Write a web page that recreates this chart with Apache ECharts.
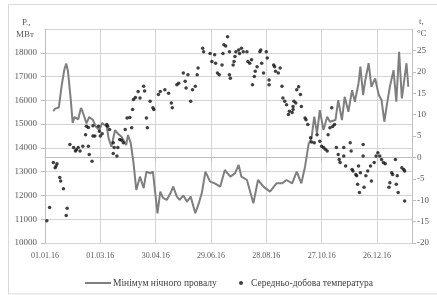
<!DOCTYPE html>
<html style="height: 100%">

<head>
    <meta charset="utf-8">
</head>

<body style="height: 100%; margin: 0; background: #fff">
    <div id="container" style="width: 437px; height: 295px"></div>
    <script src="https://cdn.jsdelivr.net/npm/echarts@6/dist/echarts.min.js"></script>
    <script type="text/javascript">
        // day index counted from 01.01.16
        var xTickLabels = ['01.01.16', '01.03.16', '30.04.16', '29.06.16', '28.08.16', '27.10.16', '26.12.16'];

        // мінімум нічного провалу, МВт
        var nightMin = [
            [9, 15550], [11, 15650], [13, 15600], [15, 15700], [18, 16600], [21, 17300], [23, 17550],
            [25, 17200], [28, 16000], [30, 15050], [32, 15300], [34, 15380], [36, 15200], [39, 15680],
            [41, 15500], [45, 15030], [48, 15300], [52, 15170], [55, 14900], [59, 14750], [62, 15050],
            [67, 14890], [69, 14400], [72, 14050], [76, 14750], [79, 14600], [83, 14470], [88, 14120],
            [90, 14540], [93, 14200], [96, 13360], [99, 12230], [103, 12790], [107, 12310], [110, 13000],
            [114, 12930], [117, 13000], [122, 11250], [125, 12160], [128, 11900], [132, 11810],
            [136, 12090], [139, 12370], [143, 11950], [146, 11810], [150, 12000], [154, 11740],
            [158, 11950], [163, 11250], [167, 11700], [170, 12090], [174, 13000], [179, 12580],
            [184, 12510], [190, 12370], [195, 13070], [201, 12790], [206, 12930], [210, 13280],
            [213, 12790], [219, 12650], [226, 11670], [231, 12650], [237, 12370], [244, 12160],
            [251, 12510], [257, 12510], [262, 12650], [268, 12510], [273, 13000], [278, 12510],
            [282, 13210], [286, 14190], [289, 14400], [292, 15310], [295, 14610], [298, 15590],
            [302, 14750], [306, 15310], [309, 15100], [315, 15170], [318, 16010], [322, 15170],
            [325, 16150], [329, 15520], [333, 16430], [336, 15940], [340, 16710], [342, 17420],
            [345, 16220], [347, 16780], [351, 17560], [354, 16570], [358, 16920], [362, 16220],
            [365, 16010], [368, 15100], [371, 15870], [374, 16570], [378, 17270], [381, 15940],
            [384, 18040], [387, 16080], [392, 17560], [394, 16570]
        ];

        // середньо-добова температура, °C
        var dailyTemp = [
            [2, -14.8], [5, -11.7], [9, -1.2], [11, -2.4], [12, -2.0], [13, -1.5], [16, -4.7], [17, -5.5],
            [20, -7.3], [23, -13.6], [24, -11.9], [27, 3.0], [31, 2.3], [33, 1.5], [34, 1.8], [36, 2.3],
            [38, 1.5], [41, 2.6], [44, 5.3], [45, 7.3], [47, 2.6], [47, 7.0], [48, 0.7], [51, -0.9],
            [52, 5.0], [52, 7.4], [54, 5.0], [58, 7.3], [59, 6.1], [60, 5.0], [62, 5.5], [67, 7.7],
            [68, 7.3], [70, 6.5], [74, 3.4], [75, 2.3], [74, 0.9], [78, 0.3], [79, 2.3], [81, 4.2],
            [83, 4.0], [85, 3.4], [87, 6.5], [89, 9.2], [92, 9.3], [94, 6.9], [95, 11.2], [96, 13.5],
            [98, 14.0], [101, 15.4], [103, 13.9], [107, 16.6], [108, 15.5], [110, 9.2], [111, 6.9],
            [114, 13.1], [117, 11.6], [118, 11.2], [123, 14.7], [125, 15.4], [130, 15.8], [134, 15.0],
            [137, 12.7], [138, 11.6], [143, 17.0], [145, 17.3], [150, 19.7], [152, 17.8], [153, 16.2],
            [155, 19.3], [158, 13.1], [160, 15.8], [163, 16.6], [165, 19.3], [166, 20.9], [171, 25.5],
            [172, 24.7], [179, 24.3], [181, 22.4], [184, 24.0], [185, 22.0], [187, 19.7], [189, 19.3],
            [192, 21.6], [193, 24.3], [194, 26.3], [196, 26.0], [198, 28.2], [200, 24.7], [200, 19.3],
            [201, 18.5], [204, 21.6], [205, 22.4], [206, 23.6], [207, 24.7], [210, 25.1], [211, 24.3],
            [213, 25.5], [215, 24.7], [219, 24.7], [220, 22.4], [222, 22.0], [224, 22.8], [225, 17.0],
            [227, 18.9], [228, 20.1], [230, 21.2], [233, 24.7], [234, 25.1], [235, 22.0], [237, 19.7],
            [240, 24.7], [241, 23.2], [243, 18.1], [243, 17.0], [248, 21.6], [249, 21.2], [250, 20.1],
            [253, 19.7], [255, 20.9], [257, 16.6], [258, 13.9], [260, 13.1], [262, 12.3], [264, 10.0],
            [265, 10.8], [268, 10.5], [269, 11.2], [269, 11.9], [270, 13.1], [272, 12.7], [273, 15.8],
            [275, 16.5], [277, 14.7], [278, 11.9], [282, 9.2], [283, 8.8], [285, 7.7], [288, 4.6],
            [289, 3.6], [292, 3.4], [295, 5.3], [298, 3.8], [300, 2.6], [302, 2.3], [304, 1.9],
            [306, 1.5], [307, 5.3], [309, 6.9], [311, 11.6], [312, 7.2], [314, 7.7], [316, 2.3],
            [318, 0.7], [319, -0.5], [320, -1.2], [324, 2.3], [324, 0.3], [326, -2.0], [331, 3.4],
            [332, 1.5], [333, -2.8], [334, -3.2], [337, -4.0], [338, -4.3], [339, -6.3], [340, -2.0],
            [341, -8.2], [342, -3.6], [345, 3.0], [345, 0.3], [346, -7.0], [348, -4.3], [350, -3.2],
            [353, -2.0], [354, -5.5], [357, -1.2], [359, 0.3], [361, 1.1], [363, 0.3], [365, -0.5],
            [367, -1.2], [369, -1.5], [373, -7.0], [374, -5.9], [376, -3.6], [377, -4.0], [380, -0.5],
            [381, -6.3], [382, -4.3], [383, -8.2], [387, -2.4], [389, -2.8], [390, -3.2], [390, -10.2]
        ];

        var font = 'Liberation Serif';
        var dom = document.getElementById("container");
        var myChart = echarts.init(dom, null, { renderer: 'canvas' });

        option = {
            animation: false,
            textStyle: { fontFamily: font },
            grid: { left: 45, right: 25, top: 29, bottom: 52 },
            legend: [{
                left: 80, top: 273,
                data: ['Мінімум нічного провалу'],
                icon: 'rect', itemWidth: 26, itemHeight: 2, itemGap: 0,
                textStyle: { fontFamily: font, fontSize: 9.5, color: '#404040', padding: [0, 0, 0, -3] }
            }, {
                left: 234, top: 273,
                data: ['Середньо-добова температура'],
                icon: 'circle', itemWidth: 4, itemHeight: 4,
                textStyle: { fontFamily: font, fontSize: 9.5, color: '#404040', padding: [0, 0, 0, 3] }
            }],
            xAxis: {
                type: 'value', min: 0, max: 398, interval: 60,
                axisLine: { show: true, lineStyle: { color: '#bfbfbf' } },
                axisTick: { show: true, length: 4, lineStyle: { color: '#bfbfbf' } },
                splitLine: { show: true, lineStyle: { color: '#d4d4d4' } },
                axisLabel: {
                    margin: 9, fontSize: 8, color: '#595959', fontFamily: font, showMaxLabel: false,
                    formatter: function(v) { return v % 60 === 0 ? xTickLabels[v / 60] : ''; }
                }
            },
            yAxis: [{
                type: 'value', min: 10000, max: 19000, interval: 1000,
                axisLine: { show: true, lineStyle: { color: '#bfbfbf' } },
                axisTick: { show: true, length: 4, lineStyle: { color: '#bfbfbf' } },
                splitLine: { show: true, lineStyle: { color: '#d4d4d4' } },
                axisLabel: {
                    margin: 8, fontSize: 9, color: '#595959', fontFamily: font, showMaxLabel: false,
                    formatter: function(v) { return String(v); }
                }
            }, {
                type: 'value', min: -20, max: 30, interval: 5,
                axisLine: { show: true, lineStyle: { color: '#bfbfbf' } },
                axisTick: { show: true, length: 4, lineStyle: { color: '#bfbfbf' } },
                splitLine: { show: false },
                axisLabel: {
                    margin: 5, fontSize: 9, color: '#595959', fontFamily: font, showMaxLabel: false,
                    formatter: function(v) { return String(v); }
                }
            }],
            graphic: [{
                type: 'rect', shape: { x: 8.5, y: 4.5, width: 440, height: 289.5 },
                style: { fill: null, stroke: '#d9d9d9', lineWidth: 1 }
            }, {
                type: 'text', left: 22, top: 18,
                style: { text: 'P.,', font: '9px "Liberation Serif"', fill: '#595959' }
            }, {
                type: 'text', left: 16, top: 30,
                style: { text: 'МВт', font: '9px "Liberation Serif"', fill: '#595959' }
            }, {
                type: 'text', left: 419, top: 17,
                style: { text: 't,', font: '9px "Liberation Serif"', fill: '#595959' }
            }, {
                type: 'text', left: 417, top: 29,
                style: { text: '°C', font: '9px "Liberation Serif"', fill: '#595959' }
            }],
            series: [{
                name: 'Мінімум нічного провалу',
                type: 'line', yAxisIndex: 0,
                data: nightMin,
                showSymbol: false,
                lineStyle: { color: '#7f7f7f', width: 2 },
                itemStyle: { color: '#7f7f7f' },
                z: 2
            }, {
                name: 'Середньо-добова температура',
                type: 'scatter', yAxisIndex: 1,
                data: dailyTemp,
                symbolSize: 3.5,
                itemStyle: { color: '#111' },
                z: 3
            }]
        };

        myChart.setOption(option);
    </script>
</body>

</html>
